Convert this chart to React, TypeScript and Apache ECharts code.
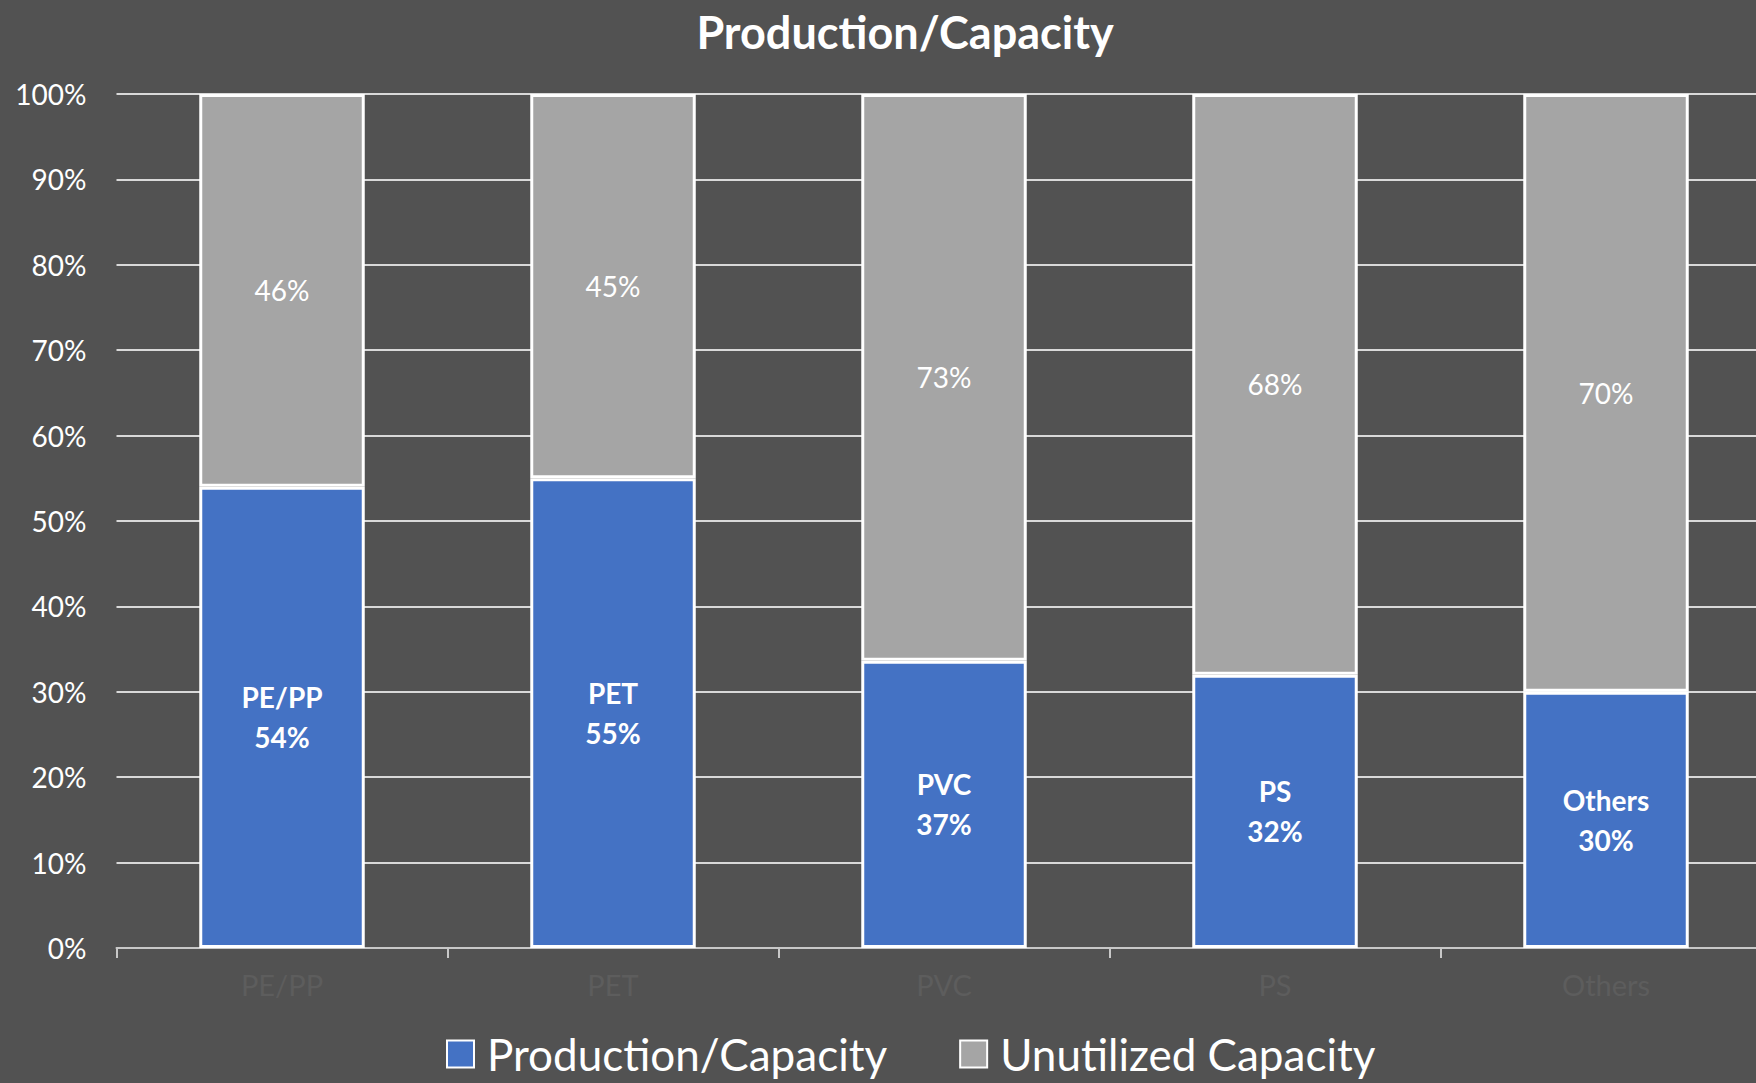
import React, { useEffect, useRef } from "react";
import * as echarts from "echarts";

// Plastics: share of capacity used vs. left idle (100% stacked)
const categories = ["PE/PP", "PET", "PVC", "PS", "Others"];
const production = [54, 55, 37, 32, 30];
const unutilized = [46, 45, 73, 68, 70];
const yTicks = [0, 10, 20, 30, 40, 50, 60, 70, 80, 90, 100];

const FONT = "Lato";

// Percent-stack: each column is scaled so its segments fill 0–100%
const totals = categories.map((_, i) => production[i] + unutilized[i]);
const share = (arr: number[]) => arr.map((v, i) => (v / totals[i]) * 100);

export default function App() {
  const ref = useRef<HTMLDivElement>(null);

  useEffect(() => {
    if (!ref.current) return;
    const chart = echarts.init(ref.current, undefined, { renderer: "svg" });
    chart.setOption({
      animation: false,
      backgroundColor: "#525252",
      textStyle: { fontFamily: FONT },
      title: {
        text: "Production/Capacity",
        left: 900,
        top: 4,
        textAlign: "center",
        textStyle: { color: "#ffffff", fontSize: 45, fontWeight: "bold", fontFamily: FONT },
      },
      legend: {
        left: 446,
        top: 1032,
        padding: 0,
        itemWidth: 27,
        itemHeight: 27,
        itemGap: 72,
        icon: "rect",
        textStyle: { color: "#ffffff", fontSize: 44, fontFamily: FONT, padding: [0, 0, 0, 8] },
        data: ["Production/Capacity", "Unutilized Capacity"],
      },
      grid: { left: 116.5, top: 94, width: 1655, height: 854, containLabel: false },
      xAxis: {
        type: "category",
        data: categories,
        axisLine: { show: true, lineStyle: { color: "#c8c8c8", width: 2 } },
        axisTick: { show: true, length: 10, lineStyle: { color: "#c8c8c8", width: 2 } },
        axisLabel: { color: "#5d5d5d", fontSize: 29, margin: 22, fontFamily: FONT },
      },
      yAxis: {
        type: "value",
        min: 0,
        max: 100,
        interval: 10,
        axisLine: { show: false },
        axisTick: { show: false },
        axisLabel: {
          color: "#ffffff",
          fontSize: 28,
          margin: 30,
          fontFamily: FONT,
          formatter: (v: number) => (yTicks.includes(v) ? `${v}%` : ""),
        },
        splitLine: { lineStyle: { color: "#d9d9d9", width: 2 } },
      },
      series: [
        {
          name: "Production/Capacity",
          type: "bar",
          stack: "cap",
          barWidth: "50%",
          data: share(production),
          itemStyle: { color: "#4472c4", borderColor: "#ffffff", borderWidth: 3 },
          label: {
            show: true,
            position: "inside",
            color: "#ffffff",
            fontSize: 28,
            fontWeight: "bold",
            lineHeight: 40,
            fontFamily: FONT,
            formatter: (p: any) => `${categories[p.dataIndex]}\n${production[p.dataIndex]}%`,
          },
        },
        {
          name: "Unutilized Capacity",
          type: "bar",
          stack: "cap",
          barWidth: "50%",
          data: share(unutilized),
          itemStyle: { color: "#a5a5a5", borderColor: "#ffffff", borderWidth: 3 },
          label: {
            show: true,
            position: "inside",
            color: "#ffffff",
            fontSize: 28,
            fontFamily: FONT,
            formatter: (p: any) => `${unutilized[p.dataIndex]}%`,
          },
        },
      ],
    });
    return () => chart.dispose();
  }, []);

  return (
    <div
      style={{
        position: "fixed",
        left: 0,
        top: 0,
        width: 1756,
        height: 1083,
        overflow: "hidden",
        background: "#525252",
      }}
    >
      <div ref={ref} style={{ width: 1800, height: 1083 }} />
    </div>
  );
}
